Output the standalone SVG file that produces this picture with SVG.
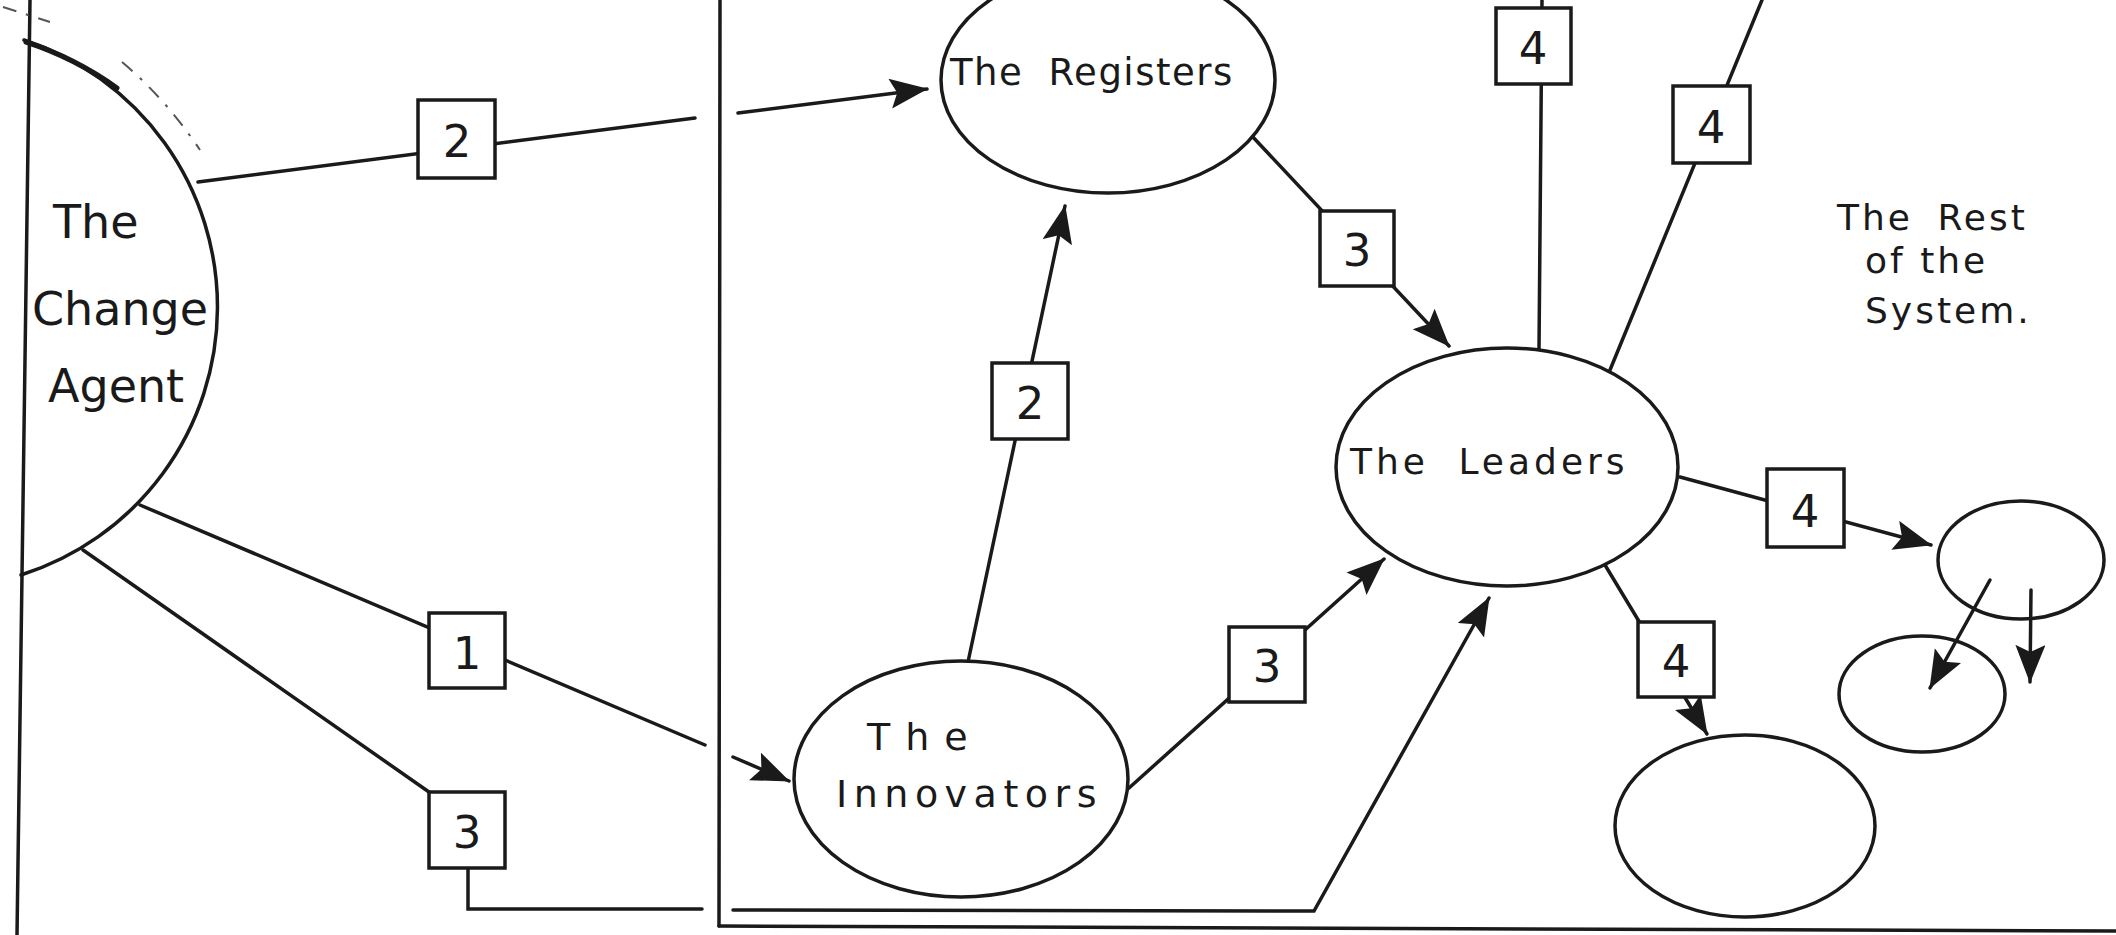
<svg xmlns="http://www.w3.org/2000/svg" width="2116" height="935" viewBox="0 0 2116 935">
<style>
.ln{stroke:#1a1a1a;stroke-width:3.5;fill:none;stroke-linecap:round}
.arr{stroke:#1a1a1a;stroke-width:3.5;fill:none;stroke-linecap:round;marker-end:url(#ah)}
.nd{stroke:#1a1a1a;stroke-width:3.5;fill:#fff}
.box{stroke:#1a1a1a;stroke-width:3.5;fill:#fff}
.t{font-family:"DejaVu Sans",sans-serif;fill:#1a1a1a}
.num{font-family:"DejaVu Sans",sans-serif;fill:#1a1a1a;font-size:45px;text-anchor:middle}
.faint{stroke:#555;stroke-width:2;fill:none;stroke-dasharray:14 10 3 10}
</style>
<defs>
<marker id="ah" markerUnits="userSpaceOnUse" markerWidth="40" markerHeight="32" refX="37" refY="15" orient="auto" viewBox="0 0 40 32">
<path d="M0,0 L38,15 L0,30 L7,15 Z" fill="#1a1a1a"/>
</marker>
</defs>
<rect width="2116" height="935" fill="#fff"/>

<g id="frame">
<line class="ln" x1="30" y1="0" x2="17" y2="935"/>
<line class="ln" x1="720" y1="0" x2="719" y2="926"/>
<line class="ln" x1="719" y1="926" x2="2116" y2="931"/>
<line class="faint" x1="3" y1="7" x2="50" y2="22"/>
<path class="faint" d="M122,62 Q165,98 200,150"/>
</g>

<g id="connectors">
<!-- Change Agent -> Registers (2) -->
<line class="ln" x1="198" y1="182" x2="695" y2="118"/>
<line class="arr" x1="738" y1="113" x2="927" y2="89"/>
<!-- Change Agent -> Innovators (1) -->
<line class="ln" x1="140" y1="505" x2="705" y2="745"/>
<line class="arr" x1="733" y1="757" x2="789" y2="781"/>
<!-- Change Agent -> Leaders (3) -->
<polyline class="ln" points="83,550 429,792"/>
<polyline class="ln" points="468,868 468,909 702,909"/>
<polyline class="arr" points="733,910 1314,911 1489,598"/>
<!-- Innovators -> Registers (2) -->
<line class="arr" x1="968" y1="662" x2="1065" y2="206"/>
<!-- Registers -> Leaders (3) -->
<line class="arr" x1="1251" y1="135" x2="1449" y2="346"/>
<!-- Innovators -> Leaders (3) -->
<line class="arr" x1="1129" y1="788" x2="1384" y2="559"/>
<!-- Leaders upward (4) -->
<line class="ln" x1="1539" y1="350" x2="1542" y2="0"/>
<line class="ln" x1="1610" y1="370" x2="1762" y2="0"/>
<!-- Leaders -> right (4) -->
<line class="arr" x1="1680" y1="477" x2="1931" y2="545"/>
<!-- Leaders -> lower (4) -->
<line class="arr" x1="1605" y1="565" x2="1707" y2="734"/>
<!-- small ellipse arrows -->
<line class="arr" x1="1990" y1="580" x2="1930" y2="688"/>
<line class="arr" x1="2031" y1="590" x2="2030" y2="682"/>
</g>

<g id="change-agent">
<path class="ln" d="M24,40 A281 281 0 0 1 21,575"/>
<path class="ln" d="M26,42 Q75,58 117,88" style="stroke-width:5"/>
<text class="t" font-size="46" x="53" y="238">The</text>
<text class="t" font-size="46" x="32" y="325">Change</text>
<text class="t" font-size="46" x="48" y="402">Agent</text>
</g>

<g id="registers">
<ellipse class="nd" cx="1108" cy="80" rx="167" ry="113"/>
<text class="t" font-size="37" x="950" y="85" letter-spacing="1.5" word-spacing="12">The Registers</text>
</g>

<g id="innovators">
<ellipse class="nd" cx="961" cy="779" rx="167" ry="118"/>
<text class="t" font-size="38" x="867" y="750" letter-spacing="15">The</text>
<text class="t" font-size="38" x="836" y="807" letter-spacing="6.5">Innovators</text>
</g>

<g id="leaders">
<ellipse class="nd" cx="1507" cy="467" rx="171" ry="119"/>
<text class="t" font-size="36" x="1350" y="474" letter-spacing="4" word-spacing="14">The Leaders</text>
</g>

<g id="rest">
<text class="t" font-size="36" x="1837" y="230" letter-spacing="3" word-spacing="10">The Rest</text>
<text class="t" font-size="36" x="1865" y="273" letter-spacing="3">of the</text>
<text class="t" font-size="36" x="1865" y="323" letter-spacing="3">System.</text>
<ellipse class="nd" cx="2021" cy="560" rx="83" ry="59" style="fill:none"/>
<ellipse class="nd" cx="1922" cy="694" rx="83" ry="58" style="fill:none"/>
<ellipse class="nd" cx="1745" cy="826" rx="130" ry="91"/>
</g>

<g id="box-ca-reg"><rect class="box" x="418" y="100" width="77" height="78"/><text class="num" x="457" y="157">2</text></g>
<g id="box-ca-inn"><rect class="box" x="429" y="613" width="76" height="75"/><text class="num" x="467" y="669">1</text></g>
<g id="box-ca-lead"><rect class="box" x="429" y="792" width="76" height="76"/><text class="num" x="467" y="848">3</text></g>
<g id="box-inn-reg"><rect class="box" x="992" y="363" width="76" height="76"/><text class="num" x="1030" y="419">2</text></g>
<g id="box-reg-lead"><rect class="box" x="1320" y="211" width="74" height="75"/><text class="num" x="1357" y="266">3</text></g>
<g id="box-inn-lead"><rect class="box" x="1229" y="627" width="76" height="75"/><text class="num" x="1267" y="682">3</text></g>
<g id="box-lead-up"><rect class="box" x="1496" y="8" width="75" height="76"/><text class="num" x="1533" y="64">4</text></g>
<g id="box-lead-diag"><rect class="box" x="1673" y="86" width="77" height="77"/><text class="num" x="1711" y="143">4</text></g>
<g id="box-lead-right"><rect class="box" x="1767" y="469" width="77" height="78"/><text class="num" x="1805" y="527">4</text></g>
<g id="box-lead-low"><rect class="box" x="1638" y="622" width="76" height="75"/><text class="num" x="1676" y="677">4</text></g>
</svg>
